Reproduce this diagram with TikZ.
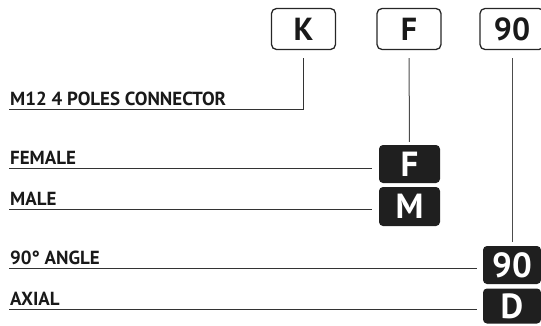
\documentclass[tikz,border=0pt]{standalone}
\usepackage{fontspec}
\setmainfont{PT Sans}
\begin{document}
\begin{tikzpicture}[x=1bp, y=-1bp,
  codebox/.style={draw=black!85, line width=1.3bp, rounded corners=5bp, minimum width=64bp, minimum height=41bp, inner sep=0pt, text height=22bp, text depth=0pt, text=black!90, font=\bfseries\fontsize{32}{32}\selectfont},
  optbox/.style={fill=black!88, rounded corners=4bp, minimum width=61bp, inner sep=0pt, text height=24bp, text depth=0pt, text=white, font=\bfseries\fontsize{35}{35}\selectfont},
  optlabel/.style={anchor=base west, inner xsep=1bp, inner ysep=4bp, text depth=0pt, text=black!90, font=\bfseries\fontsize{19}{19}\selectfont},
  uline/.style={draw=black!80, line width=1.3bp},
  vline/.style={draw=black!70, line width=1bp}]
\useasboundingbox (0,0) rectangle (541,325);

% Code boxes
\node[codebox] (kcode) at (303.5, 29) {K};
\node[codebox] (fcode) at (409, 29) {F};
\node[codebox] (ncode) at (512, 29) {90};

% Option boxes
\node[optbox, minimum height=38bp] (fopt) at (409.5, 164) {F};
\node[optbox, minimum height=39bp] (mopt) at (409.5, 206.5) {M};
\node[optbox, minimum width=58bp, minimum height=38bp] (nopt) at (512, 265) {90};
\node[optbox, minimum width=58bp, minimum height=35bp] (dopt) at (512, 306) {D};

% Labels
\node[optlabel] (conn) at (9, 105) {M12 4 POLES CONNECTOR};
\node[optlabel] (female) at (9, 164) {FEMALE};
\node[optlabel] (male) at (9, 205) {MALE};
\node[optlabel] (angle) at (9, 264) {90° ANGLE};
\node[optlabel] (axial) at (9, 305) {AXIAL};

% Lines
\draw[uline, shorten >=8bp] (conn.south west) -| (kcode.south);
\draw[vline, shorten <=8bp, shorten >=3bp] (fcode.south) -- (fopt.north);
\draw[vline, shorten <=8bp, shorten >=4bp] (ncode.south) -- (nopt.north);
\draw[uline, shorten >=7bp] (female.south west) -- (female.south west -| fopt.west);
\draw[uline, shorten >=7bp] (male.south west) -- (male.south west -| mopt.west);
\draw[uline, shorten >=6bp] (angle.south west) -- (angle.south west -| nopt.west);
\draw[uline, shorten >=6bp] (axial.south west) -- (axial.south west -| dopt.west);
\end{tikzpicture}
\end{document}
